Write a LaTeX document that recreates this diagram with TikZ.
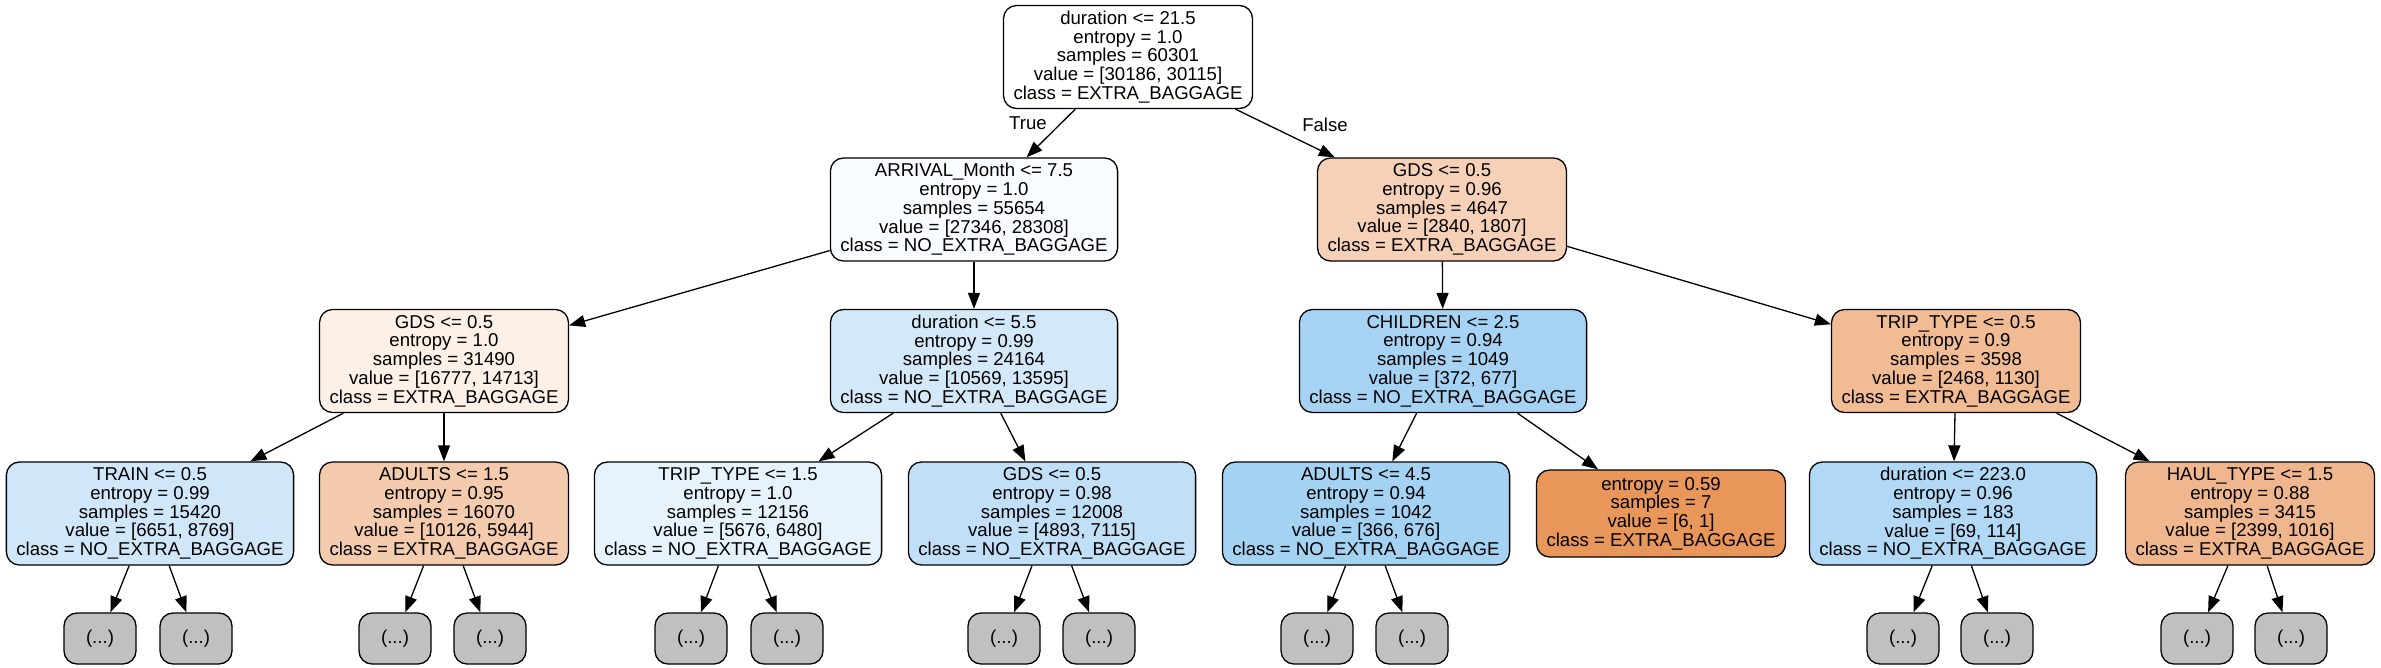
\documentclass[tikz,border=0pt]{standalone}
\usepackage{fontspec}
\setmainfont{Liberation Sans}
\usepackage{tikz}
\usepackage{xcolor}
\usetikzlibrary{arrows.meta}

\definecolor{cRoot}{RGB}{255,255,254}
\definecolor{cArrival}{RGB}{248,252,254}
\definecolor{cGdsR}{RGB}{246,209,183}
\definecolor{cGdsL}{RGB}{252,240,231}
\definecolor{cDurA}{RGB}{211,233,249}
\definecolor{cChild}{RGB}{166,211,243}
\definecolor{cTripA}{RGB}{241,187,148}
\definecolor{cTrain}{RGB}{207,231,249}
\definecolor{cAdultA}{RGB}{244,203,173}
\definecolor{cTripB}{RGB}{230,243,252}
\definecolor{cGdsB}{RGB}{193,224,247}
\definecolor{cAdultB}{RGB}{164,210,243}
\definecolor{cLeaf}{RGB}{233,150,90}
\definecolor{cDurB}{RGB}{177,216,245}
\definecolor{cHaul}{RGB}{240,182,141}
\definecolor{cMore}{RGB}{192,192,192}

\tikzset{
    split/.style={draw, line width=1.3pt, rounded corners=13pt, align=center,
        inner xsep=10pt, minimum height=103pt,
        font=\fontsize{18.6pt}{18.7pt}\selectfont},
    more/.style={draw, line width=1.3pt, rounded corners=13pt, fill=cMore,
        minimum width=72pt, minimum height=51pt,
        font=\fontsize{18.6pt}{18.7pt}\selectfont},
    edge/.style={line width=1.3pt, -{Triangle[length=16pt,width=12pt]}},
    lbl/.style={font=\fontsize{18.6pt}{18.7pt}\selectfont}
}

\begin{document}
\begin{tikzpicture}[x=1pt,y=1pt]
    \useasboundingbox (0,0) rectangle (2381,-667);

    % Root
    \node[split, fill=cRoot] (root) at (1128,-57)
        {duration <= 21.5\\entropy = 1.0\\samples = 60301\\value = [30186, 30115]\\class = EXTRA\_BAGGAGE};

    % Level 1
    \node[split, fill=cArrival] (arrival) at (974,-209.5)
        {ARRIVAL\_Month <= 7.5\\entropy = 1.0\\samples = 55654\\value = [27346, 28308]\\class = NO\_EXTRA\_BAGGAGE};
    \node[split, fill=cGdsR] (gdsR) at (1442,-209.5)
        {GDS <= 0.5\\entropy = 0.96\\samples = 4647\\value = [2840, 1807]\\class = EXTRA\_BAGGAGE};

    % Level 2
    \node[split, fill=cGdsL] (gdsL) at (444,-361)
        {GDS <= 0.5\\entropy = 1.0\\samples = 31490\\value = [16777, 14713]\\class = EXTRA\_BAGGAGE};
    \node[split, fill=cDurA] (durA) at (974,-361)
        {duration <= 5.5\\entropy = 0.99\\samples = 24164\\value = [10569, 13595]\\class = NO\_EXTRA\_BAGGAGE};
    \node[split, fill=cChild] (child) at (1443,-361)
        {CHILDREN <= 2.5\\entropy = 0.94\\samples = 1049\\value = [372, 677]\\class = NO\_EXTRA\_BAGGAGE};
    \node[split, fill=cTripA] (tripA) at (1956,-361)
        {TRIP\_TYPE <= 0.5\\entropy = 0.9\\samples = 3598\\value = [2468, 1130]\\class = EXTRA\_BAGGAGE};

    % Level 3
    \node[split, fill=cTrain] (train) at (150,-513.5)
        {TRAIN <= 0.5\\entropy = 0.99\\samples = 15420\\value = [6651, 8769]\\class = NO\_EXTRA\_BAGGAGE};
    \node[split, fill=cAdultA] (adultA) at (444,-513.5)
        {ADULTS <= 1.5\\entropy = 0.95\\samples = 16070\\value = [10126, 5944]\\class = EXTRA\_BAGGAGE};
    \node[split, fill=cTripB] (tripB) at (738,-513.5)
        {TRIP\_TYPE <= 1.5\\entropy = 1.0\\samples = 12156\\value = [5676, 6480]\\class = NO\_EXTRA\_BAGGAGE};
    \node[split, fill=cGdsB] (gdsB) at (1052,-513.5)
        {GDS <= 0.5\\entropy = 0.98\\samples = 12008\\value = [4893, 7115]\\class = NO\_EXTRA\_BAGGAGE};
    \node[split, fill=cAdultB] (adultB) at (1366,-513.5)
        {ADULTS <= 4.5\\entropy = 0.94\\samples = 1042\\value = [366, 676]\\class = NO\_EXTRA\_BAGGAGE};
    \node[split, fill=cLeaf, minimum height=87pt] (leaf) at (1661,-513.5)
        {entropy = 0.59\\samples = 7\\value = [6, 1]\\class = EXTRA\_BAGGAGE};
    \node[split, fill=cDurB] (durB) at (1953,-513.5)
        {duration <= 223.0\\entropy = 0.96\\samples = 183\\value = [69, 114]\\class = NO\_EXTRA\_BAGGAGE};
    \node[split, fill=cHaul] (haul) at (2250,-513.5)
        {HAUL\_TYPE <= 1.5\\entropy = 0.88\\samples = 3415\\value = [2399, 1016]\\class = EXTRA\_BAGGAGE};

    % Truncated branches
    \node[more] (m1) at (100,-638.5) {(...)};
    \node[more] (m2) at (196,-638.5) {(...)};
    \node[more] (m3) at (395,-638.5) {(...)};
    \node[more] (m4) at (490,-638.5) {(...)};
    \node[more] (m5) at (691,-638.5) {(...)};
    \node[more] (m6) at (787,-638.5) {(...)};
    \node[more] (m7) at (1004,-638.5) {(...)};
    \node[more] (m8) at (1099,-638.5) {(...)};
    \node[more] (m9) at (1317,-638.5) {(...)};
    \node[more] (m10) at (1412,-638.5) {(...)};
    \node[more] (m11) at (1903,-638.5) {(...)};
    \node[more] (m12) at (1997,-638.5) {(...)};
    \node[more] (m13) at (2197,-638.5) {(...)};
    \node[more] (m14) at (2291,-638.5) {(...)};

    % Edges
    \draw[edge] (root) -- (arrival);
    \draw[edge] (root) -- (gdsR);
    \draw[edge] (arrival) -- (gdsL);
    \draw[edge] (arrival) -- (durA);
    \draw[edge] (gdsR) -- (child);
    \draw[edge] (gdsR) -- (tripA);
    \draw[edge] (gdsL) -- (train);
    \draw[edge] (gdsL) -- (adultA);
    \draw[edge] (durA) -- (tripB);
    \draw[edge] (durA) -- (gdsB);
    \draw[edge] (child) -- (adultB);
    \draw[edge] (child) -- (leaf);
    \draw[edge] (tripA) -- (durB);
    \draw[edge] (tripA) -- (haul);
    \draw[edge] (train) -- (m1);
    \draw[edge] (train) -- (m2);
    \draw[edge] (adultA) -- (m3);
    \draw[edge] (adultA) -- (m4);
    \draw[edge] (tripB) -- (m5);
    \draw[edge] (tripB) -- (m6);
    \draw[edge] (gdsB) -- (m7);
    \draw[edge] (gdsB) -- (m8);
    \draw[edge] (adultB) -- (m9);
    \draw[edge] (adultB) -- (m10);
    \draw[edge] (durB) -- (m11);
    \draw[edge] (durB) -- (m12);
    \draw[edge] (haul) -- (m13);
    \draw[edge] (haul) -- (m14);

    % Branch labels
    \node[lbl] (tlbl) at (1028,-123) {True};
    \node[lbl] (flbl) at (1325,-125) {False};
\end{tikzpicture}
\end{document}
